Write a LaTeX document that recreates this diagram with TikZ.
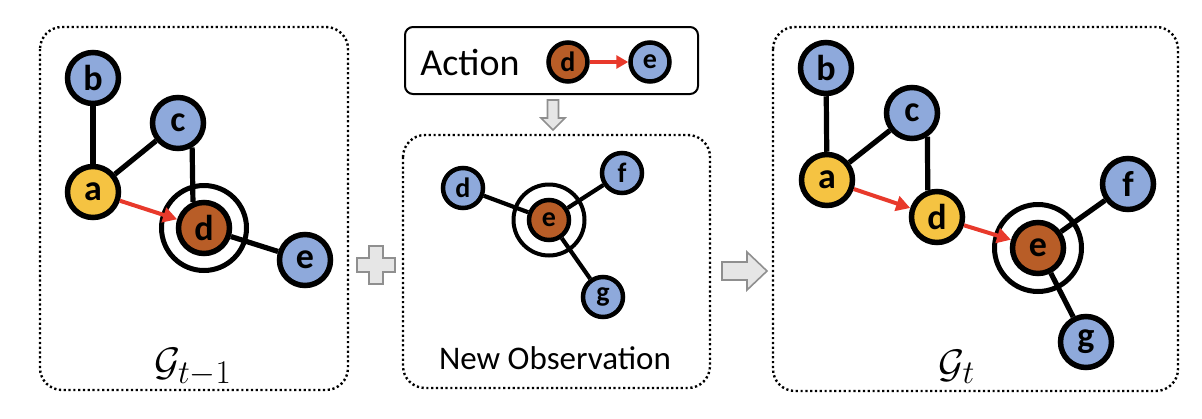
\documentclass[tikz,border=0pt]{standalone}
\usepackage{fontspec}
\setsansfont{Carlito}
\usetikzlibrary{arrows.meta}
\definecolor{nblue}{HTML}{8EA9DB}
\definecolor{nyel}{HTML}{F5C342}
\definecolor{nbrown}{HTML}{B85D27}
\definecolor{ared}{HTML}{E8392B}
\definecolor{agrayf}{HTML}{E6E6E6}
\definecolor{agrayd}{HTML}{8F8F8F}
\begin{document}
\begin{tikzpicture}[x=1pt,y=-1pt,
  gnode/.style={circle,draw=black,line width=5.5pt,minimum size=51pt,inner sep=0pt,
    font=\sffamily\bfseries\fontsize{36}{36}\selectfont},
  snode/.style={gnode,line width=4.5pt,minimum size=40pt,
    font=\sffamily\bfseries\fontsize{28}{28}\selectfont},
  anode/.style={snode,minimum size=39pt,font=\sffamily\bfseries\fontsize{28}{28}\selectfont},
  blue/.style={fill=nblue},
  yel/.style={fill=nyel},
  brown/.style={fill=nbrown},
  ringnode/.style={circle,draw=black,line width=5pt,inner sep=0pt},
  edge/.style={line width=5.2pt,black},
  sedge/.style={line width=4.2pt,black},
  redarr/.style={line width=4pt,ared,-{Triangle[length=14pt,width=15pt]}},
  panel/.style={draw=black,line width=2.4pt,dash pattern=on 2.2pt off 2.6pt,rounded corners=22pt},
  grayarr/.style={fill=agrayf,draw=agrayd,line width=1.6pt},
  mathlbl/.style={inner sep=0pt,font=\Huge,scale=1.6}
]
\useasboundingbox (0,0) rectangle (1202,418);

% panels
\draw[panel] (40,27) rectangle (348,390);
\draw[panel] (403,135) rectangle (710,388);
\draw[panel] (773,27) rectangle (1178,391);
\node[draw=black,line width=2pt,rounded corners=8pt,minimum width=293pt,minimum height=67pt,inner sep=0pt] (actbox) at (551.5,60.5) {};

% gray arrows and plus
\draw[grayarr] (547.5,100) -- (558.5,100) -- (558.5,118) -- (565,118) -- (553,130) -- (541,118) -- (547.5,118) -- cycle;
\draw[grayarr] (722,262) -- (747,262) -- (747,252) -- (767,271) -- (747,290) -- (747,280) -- (722,280) -- cycle;
\draw[grayarr] (369,246) -- (383,246) -- (383,258) -- (395,258) -- (395,272) -- (383,272) -- (383,284) -- (369,284) -- (369,272) -- (357,272) -- (357,258) -- (369,258) -- cycle;

% ---------- left panel ----------
\node[ringnode,minimum size=85pt] (Lring) at (204,228) {};
\node[gnode,blue] (Lb) at (93,78) {b};
\node[gnode,blue] (Lc) at (178,123) {c};
\node[gnode,yel] (La) at (93,192) {a};
\node[gnode,brown] (Ld) at (204,228) {d};
\node[gnode,blue] (Le) at (305,260) {e};
\draw[edge] (La) -- (Lb);
\draw[edge] (La) -- (Lc);
\draw[edge] (Lc.-60) -- (Ld.113);
\draw[edge] (Ld) -- (Le);
\draw[redarr] (La) -- (Ld);
\node[mathlbl] (Llbl) at (193,367) {$\mathcal{G}_{t-1}$};

% ---------- action box ----------
\node[font=\sffamily\fontsize{38}{38}\selectfont,inner sep=0pt] (acttxt) at (470,62) {Action};
\node[anode,brown] (Ad) at (568,62) {d};
\node[anode,blue] (Ae) at (650,62) {e};
\draw[line width=3.5pt,ared,-{Triangle[length=12pt,width=13pt]}] (Ad) -- (Ae);

% ---------- new observation ----------
\node[ringnode,line width=4pt,minimum size=71pt] (Mring) at (549,220) {};
\node[snode,blue] (Md) at (463,188) {d};
\node[snode,brown] (Me) at (549,220) {e};
\node[snode,blue] (Mf) at (622,173) {f};
\node[snode,blue] (Mg) at (603,297) {g};
\draw[sedge] (Md) -- (Me);
\draw[sedge] (Me) -- (Mf);
\draw[sedge] (Me) -- (Mg);
\node[font=\sffamily\fontsize{33}{33}\selectfont,inner sep=0pt] (obs) at (555,358) {New Observation};

% ---------- right panel ----------
\node[ringnode,minimum size=87pt] (Rring) at (1038,248) {};
\node[gnode,blue] (Rb) at (826,68) {b};
\node[gnode,blue] (Rc) at (912,113) {c};
\node[gnode,yel] (Ra) at (827,180) {a};
\node[gnode,yel] (Rd) at (937,217) {d};
\node[gnode,brown] (Re) at (1038,248) {e};
\node[gnode,blue] (Rf) at (1128,184) {f};
\node[gnode,blue] (Rg) at (1086,342) {g};
\draw[edge] (Ra) -- (Rb);
\draw[edge] (Ra) -- (Rc);
\draw[edge] (Rc.-57) -- (Rd.109);
\draw[edge] (Re) -- (Rf);
\draw[edge] (Re) -- (Rg);
\draw[redarr] (Ra) -- (Rd);
\draw[redarr] (Rd) -- (Re);
\node[mathlbl] (Rlbl) at (957,367) {$\mathcal{G}_{t}$};
\end{tikzpicture}
\end{document}
